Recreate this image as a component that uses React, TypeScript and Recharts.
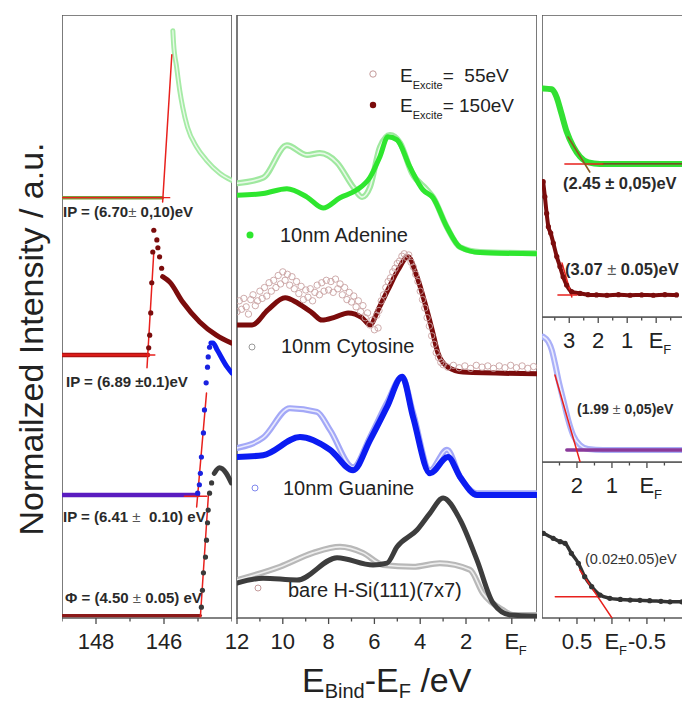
import React from "react";
import { ComposedChart, Line, Scatter, XAxis, YAxis, ReferenceArea } from "recharts";

const FONT = "'Liberation Sans', Arial, Helvetica, sans-serif";
const RED = "#e8211d";

// ---------- left panel: secondary electron cut-off (eV) ----------
const cutTicks = [149, 148, 147, 146, 145, 144];
const cutTickLabels: Record<string, string> = { "148": "148", "146": "146" };

const cutAdenineBase = [[149, 69.7], [146.05, 69.7]];
const cutAdenineTail = [
  [145.74, 97.4], [145.72, 95.4], [145.63, 91.4], [145.54, 87.6], [145.45, 84.7],
  [145.31, 81.4], [145.04, 78.1], [144.75, 75.9], [144.37, 73.8], [144.02, 72.6],
];
const cutAdenineFit = [[146.04, 69.0], [145.77, 93.4]];
const cutAdenineFitH = [[149, 69.7], [145.83, 69.7]];

const cutCytosineBase = [[149, 43.6], [146.47, 43.6]];
const cutCytosineEdge = [
  [146.45, 44.8], [146.42, 46.9], [146.39, 50.6], [146.36, 55.6], [146.33, 60.7],
  [146.3, 64.3], [146.21, 62.7], [146.18, 61.4], [146.13, 59.9], [146.07, 58.0],
];
const cutCytosineTail = [
  [146.04, 56.6], [145.83, 55.7], [145.45, 52.4], [144.95, 49.1], [144.46, 46.9], [144.02, 45.6],
];
const cutCytosineFit = [[146.5, 41.5], [146.3, 60.7]];
const cutCytosineFitH = [[149, 43.6], [146.27, 43.6]];

const cutGuanineBase = [[149, 20.4], [145.0, 20.4]];
const cutGuanineEdge = [
  [145.01, 20.7], [144.96, 22.1], [144.93, 24.0], [144.9, 26.7], [144.84, 30.7],
  [144.81, 34.5], [144.76, 39.0], [144.72, 41.6], [144.7, 43.3], [144.66, 44.9],
];
const cutGuanineTail = [[144.62, 45.6], [144.56, 45.6], [144.43, 44.4], [144.14, 41.6], [144.0, 40.6]];
const cutGuanineFit = [[145.04, 18.4], [144.75, 37.3]];
const cutGuanineFitH = [[145.4, 20.2], [144.74, 20.2]];

const cutSiBase = [[149, 0.4], [144.93, 0.4]];
const cutSiEdge = [
  [144.9, 1.8], [144.87, 4.6], [144.84, 7.5], [144.78, 10.1], [144.75, 12.9],
  [144.72, 15.8], [144.7, 17.9], [144.66, 20.7], [144.6, 22.4],
];
const cutSiTail = [[144.52, 24.0], [144.37, 24.9], [144.17, 24.0], [144.02, 22.4]];
const cutSiFit = [[144.93, 0.2], [144.69, 20.7]];

// ---------- middle panel: valence band, E_Bind - E_F (eV) ----------
const vbTicks = [12, 11, 10, 9, 8, 7, 6, 5, 4, 3, 2, 1, 0, -1];
const vbTickLabels: Record<string, string> = {
  "12": "12", "10": "10", "8": "8", "6": "6", "4": "4", "2": "2", "0": "EF",
};

const vbAdenine55 = [
  [12, 72.1], [10.86, 73.0], [9.82, 78.4], [8.94, 76.8], [8.38, 77.1], [7.63, 75.5],
  [6.93, 71.5], [6.54, 69.8], [6.19, 71.5], [5.76, 78.1], [5.32, 80.1], [4.88, 78.8],
  [4.36, 73.8], [3.7, 71.0], [3.44, 69.8], [2.83, 64.8], [2.26, 61.5], [1.39, 60.7], [-1.1, 60.5],
];
const vbAdenine150 = [
  [12, 70.1], [10.86, 70.4], [9.82, 71.2], [8.94, 69.8], [8.24, 68.0], [7.5, 69.7],
  [6.76, 71.0], [6.19, 73.1], [5.76, 76.5], [5.41, 79.8], [5.01, 79.3], [4.45, 74.8],
  [3.88, 71.0], [3.44, 69.7], [2.83, 64.8], [2.26, 61.5], [1.39, 60.6], [-1.1, 60.4],
];
const vbCytosine55 = [
  [12.0, 50.8], [11.9, 52.6], [11.8, 51.2], [11.7, 53.0], [11.6, 51.6], [11.5, 50.4],
  [11.4, 52.8], [11.3, 53.6], [11.2, 51.8], [11.1, 52.6], [11.0, 54.2], [10.9, 53.0],
  [10.8, 54.8], [10.7, 53.4], [10.6, 55.6], [10.5, 54.2], [10.4, 56.0], [10.3, 54.8],
  [10.2, 56.8], [10.1, 55.4], [10.0, 57.4], [9.9, 56.0], [9.8, 57.0], [9.7, 55.2],
  [9.6, 56.6], [9.5, 54.6], [9.4, 55.8], [9.3, 53.8], [9.2, 55.0], [9.1, 52.8],
  [9.0, 54.4], [8.9, 53.2], [8.8, 54.6], [8.7, 52.6], [8.6, 54.0], [8.5, 55.2],
  [8.4, 53.6], [8.3, 55.6], [8.2, 54.2], [8.1, 56.0], [8.0, 54.4], [7.9, 55.8],
  [7.8, 54.0], [7.7, 56.2], [7.6, 54.6], [7.5, 55.4], [7.4, 53.6], [7.3, 54.8],
  [7.2, 52.8], [7.1, 54.0], [7.0, 52.4], [6.9, 53.4], [6.8, 51.6], [6.7, 52.6],
  [6.6, 50.8], [6.5, 51.8], [6.4, 49.8], [6.3, 50.6], [6.2, 48.6], [6.1, 49.4],
  [6.0, 47.8], [5.9, 50.2], [5.84, 48.1], [5.8, 51.0], [5.7, 52.6], [5.6, 53.6],
  [5.5, 54.8], [5.4, 55.8], [5.3, 56.4], [5.2, 57.4], [5.1, 58.0], [5.0, 58.8],
  [4.9, 59.2], [4.8, 60.0], [4.7, 60.4], [4.6, 59.8], [4.5, 60.2], [4.4, 59.0],
  [4.3, 58.2], [4.2, 57.0], [4.1, 55.8], [4.0, 54.2], [3.9, 52.8], [3.8, 51.4],
  [3.7, 49.8], [3.6, 48.4], [3.5, 46.8], [3.4, 45.4], [3.3, 44.0], [3.2, 43.2],
  [3.1, 42.4], [3.0, 42.0], [2.8, 41.6], [2.55, 41.9], [2.3, 41.5], [2.05, 41.8],
  [1.8, 41.4], [1.55, 41.9], [1.3, 41.6], [1.05, 41.8], [0.8, 41.4], [0.55, 41.8],
  [0.3, 41.5], [0.05, 41.9], [-0.2, 41.5], [-0.45, 41.8], [-0.7, 41.4], [-0.95, 41.7],
];
const vbCytosine150 = [
  [12, 48.6], [11.34, 48.6], [10.65, 51.1], [9.9, 53.1], [9.34, 52.2], [8.72, 50.6],
  [8.29, 49.4], [7.72, 49.9], [7.15, 50.6], [6.54, 49.8], [6.19, 48.6], [5.84, 51.1],
  [5.41, 54.4], [4.97, 57.7], [4.53, 59.9], [4.14, 56.6], [3.79, 52.2], [3.48, 47.8],
  [3.22, 43.9], [2.79, 41.6], [2.13, 40.8], [-1.1, 40.5],
];
const vbGuanine55 = [
  [12, 28.2], [10.86, 29.9], [9.69, 34.8], [8.51, 34.2], [7.94, 31.2], [6.93, 25.0],
  [6.19, 30.0], [5.45, 35.7], [4.79, 40.0], [4.31, 34.0], [3.57, 24.5], [2.83, 27.9],
  [2.26, 23.4], [1.52, 20.7], [-1.1, 20.7],
];
const vbGuanine150 = [
  [12, 26.7], [10.86, 27.0], [9.25, 30.0], [7.94, 27.9], [6.93, 24.5], [6.19, 29.5],
  [5.45, 35.0], [4.79, 40.0], [4.31, 33.3], [3.57, 24.0], [2.79, 26.7], [2.26, 23.4],
  [1.52, 20.4], [-1.1, 20.4],
];
const vbSi55 = [
  [12, 6.3], [10.12, 8.5], [8.68, 10.8], [7.5, 11.8], [6.5, 10.8], [5.62, 8.8],
  [4.31, 8.5], [3.14, 9.1], [1.83, 8.0], [1.26, 4.1], [0.38, 1.3], [-0.05, 0.5], [-1.1, 0.5],
];
const vbSi150 = [
  [12, 5.8], [10.86, 6.6], [9.38, 6.3], [7.63, 10.0], [6.06, 8.8], [5.45, 9.1],
  [5.01, 11.8], [4.14, 14.6], [3.57, 17.4], [3.0, 19.9], [2.26, 16.3], [1.52, 9.6],
  [0.82, 2.5], [0.08, 0.5], [-1.1, 0.3],
];

// ---------- right panels: valence band maximum ----------
const vbm1Ticks = [3.5, 3, 2.5, 2, 1.5, 1, 0.5, 0, -0.5];
const vbm1TickLabels: Record<string, string> = { "3": "3", "2": "2", "1": "1", "0": "EF" };
const vbmAdenine = [
  [3.9, 75.7], [3.61, 75.4], [3.44, 72.9], [3.27, 67.4], [3.09, 61.4], [2.86, 56.4],
  [2.63, 53.1], [2.34, 51.2], [1.94, 50.7], [-0.96, 50.7],
];
const vbmAdenineFit = [[3.04, 59.6], [2.29, 48.0]];
const vbmAdenineFitH = [[3.15, 50.7], [1.84, 50.7]];
const vbmAdenineTrail = [[1.84, 50.7], [-0.96, 50.7]];
const vbmCytosine = [
  [3.9, 44.8], [3.84, 39.8], [3.78, 34.3], [3.72, 29.9], [3.64, 27.8], [3.55, 24.5],
  [3.43, 20.0], [3.32, 16.7], [3.21, 13.3], [3.09, 10.6], [2.92, 8.4], [2.63, 7.8],
  [2.35, 7.4], [2.06, 7.3], [1.7, 7.2], [1.3, 7.4], [0.9, 7.2], [0.5, 7.3], [0.1, 7.2], [-0.3, 7.4], [-0.7, 7.3],
];
const vbmCytosineFit = [[3.25, 17.9], [2.91, 6.6]];
const vbmCytosineFitH = [[3.39, 7.3], [2.73, 7.3]];

const vbm2Ticks = [2.5, 2, 1.5, 1, 0.5, 0, -0.5];
const vbm2TickLabels: Record<string, string> = { "2": "2", "1": "1", "0": "EF" };
const vbmGuanine = [
  [2.96, 86.4], [2.82, 83.0], [2.72, 77.2], [2.63, 68.1], [2.53, 56.6], [2.39, 42.8],
  [2.25, 29.0], [2.11, 18.6], [1.91, 11.7], [1.68, 9.0], [1.25, 8.3], [-1.06, 8.3],
];
const vbmGuanineFit = [[2.63, 60.0], [1.91, 0]];
const vbmGuanineBase = [[2.29, 8.3], [-1.06, 8.3]];

const vbm3Ticks = [0.75, 0.5, 0.25, 0, -0.25, -0.5, -0.75];
const vbm3TickLabels: Record<string, string> = { "0.5": "0.5", "0": "EF", "-0.5": "-0.5" };
const vbmSi = [
  [0.98, 54.3], [0.84, 51.1], [0.74, 48.9], [0.67, 47.9], [0.58, 41.5], [0.48, 35.1],
  [0.39, 26.5], [0.29, 20.1], [0.17, 14.7], [0.03, 12.6], [-0.12, 11.9], [-0.26, 11.5],
  [-0.4, 11.3], [-0.54, 11.1], [-0.7, 10.7], [-0.83, 10.4], [-1.0, 10.4],
];
const vbmSiFit = [[0.46, 30.8], [0.0, 0]];
const vbmSiFitH = [[0.81, 13.7], [0.17, 13.7]];

type P = { e: number; v: number };
const toPts = (a: number[][]): P[] => a.map(([e, v]) => ({ e, v }));

const solid = (key: string, data: number[][], color: string, w: number, type: any = "monotone", opacity = 1) => (
  <Line
    key={key}
    data={toPts(data)}
    dataKey="v"
    type={type}
    stroke={color}
    strokeWidth={w}
    strokeOpacity={opacity}
    strokeLinecap="round"
    dot={false}
    activeDot={false}
    isAnimationActive={false}
  />
);
// open-circle data drawn as a light ribbon with a pale centre
const hollow = (key: string, data: number[][], color: string, w = 6) => [
  solid(key + "o", data, color, w),
  solid(key + "i", data, "#ffffff", w * 0.27, "monotone", 0.75),
];
const fit = (key: string, data: number[][], w = 1.5) => solid(key, data, RED, w, "linear");
const dots = (key: string, data: number[][], color: string, r: number, open = false) => (
  <Scatter
    key={key}
    data={toPts(data)}
    dataKey="v"
    isAnimationActive={false}
    shape={(p: any) =>
      open ? (
        <circle cx={p.cx} cy={p.cy} r={r} fill="none" stroke={color} strokeWidth={0.9} />
      ) : (
        <circle cx={p.cx} cy={p.cy} r={r} fill={color} />
      )
    }
  />
);

const makeTick = (labels: Record<string, string>) => (props: any) => {
  const { x, y, payload } = props;
  const lab = labels[String(payload.value)];
  return (
    <g>
      <line x1={x} x2={x} y1={y} y2={y + (lab ? 6 : 3.5)} stroke="#4a4a4a" strokeWidth={1.3} />
      {lab === "EF" ? (
        <g fontFamily={FONT} fill="#222">
          <text x={x} y={y + 31} textAnchor="middle" fontSize={22}>E</text>
          <text x={x + 7} y={y + 37} fontSize={13}>F</text>
        </g>
      ) : lab ? (
        <text x={x} y={y + 31} textAnchor="middle" fontSize={22} fill="#222" fontFamily={FONT}>
          {lab}
        </text>
      ) : null}
    </g>
  );
};

function Panel(props: {
  left: number; top: number; w: number; h: number; domain: [number, number];
  ticks: number[]; labels: Record<string, string>; children: any; pad?: number;
}) {
  const { left, top, w, h, domain, ticks, labels, children } = props;
  const pad = props.pad ?? 0;
  return (
    <div style={{ position: "absolute", left: left - pad, top }}>
      <ComposedChart width={w + pad} height={h + 40} margin={{ top: 0, right: 0, bottom: 0, left: pad }}>
        <XAxis
          type="number"
          dataKey="e"
          domain={domain}
          reversed
          allowDataOverflow
          ticks={ticks}
          interval={0}
          tick={makeTick(labels)}
          tickLine={false}
          axisLine={false}
          tickSize={0}
          tickMargin={0}
          height={40}
        />
        <YAxis type="number" dataKey="v" domain={[0, 100]} allowDataOverflow hide width={0} />
        {children}
        <ReferenceArea
          x1={domain[0]} x2={domain[1]} y1={0} y2={100}
          fill="none" stroke="#5a5a5a" strokeWidth={1.6} ifOverflow="visible"
        />
      </ComposedChart>
    </div>
  );
}

const bold = { fontWeight: 700, fill: "#2a2a2a", whiteSpace: "pre" } as any;
const pm = { fontWeight: 400, fill: "#555" } as any;

export default function App() {
  return (
    <div style={{ position: "absolute", left: 0, top: 0, width: 682, height: 704, background: "#fff", overflow: "hidden", fontFamily: FONT }}>
      <Panel left={62} top={15} w={170} h={603} domain={[144, 149]} ticks={cutTicks} labels={cutTickLabels}>
        {solid("agb", cutAdenineBase, "#7e9a3c", 3.5, "linear")}
        {fit("agh", cutAdenineFitH, 1.2)}
        {hollow("agt", cutAdenineTail, "#a6eba6", 5)}
        {fit("agf", cutAdenineFit)}
        {solid("ccb", cutCytosineBase, "#b01212", 4.5, "linear")}
        {fit("cch", cutCytosineFitH)}
        {solid("cct", cutCytosineTail, "#7b0c0c", 5)}
        {fit("ccf", cutCytosineFit)}
        {dots("cce", cutCytosineEdge, "#7b0c0c", 2.6)}
        {solid("gub", cutGuanineBase, "#5a1cc0", 4.5, "linear")}
        {fit("guh", cutGuanineFitH)}
        {solid("gut", cutGuanineTail, "#0b1cf2", 5)}
        {fit("guf", cutGuanineFit)}
        {dots("gue", cutGuanineEdge, "#1a22e0", 2.6)}
        {solid("sib", cutSiBase, "#8c1a1a", 3.2, "linear")}
        {solid("sit", cutSiTail, "#3d3d3d", 5)}
        {fit("sif", cutSiFit)}
        {dots("sie", cutSiEdge, "#3a3a3a", 2.6)}
      </Panel>

      <Panel left={237} top={15} w={300} h={603} pad={20} domain={[-1.1, 12]} ticks={vbTicks} labels={vbTickLabels}>
        {hollow("a55", vbAdenine55, "#9fe89f", 6)}
        {solid("a150", vbAdenine150, "#2ee62e", 5)}
        {dots("c55", vbCytosine55, "#c9a3a3", 3.2, true)}
        {solid("c150", vbCytosine150, "#7b0c0c", 5)}
        {hollow("g55", vbGuanine55, "#a3a8f7", 6)}
        {solid("g150", vbGuanine150, "#0b1cf2", 6)}
        {hollow("s55", vbSi55, "#b8b8b8", 6)}
        {solid("s150", vbSi150, "#3d3d3d", 5)}
      </Panel>

      <Panel left={542} top={15} w={142} h={302} domain={[-0.96, 3.94]} ticks={vbm1Ticks} labels={vbm1TickLabels}>
        {solid("ma", vbmAdenine, "#33e033", 6)}
        {solid("mat", vbmAdenineTrail, "#8a2020", 1.2, "linear")}
        {fit("mah", vbmAdenineFitH)}
        {solid("maf", vbmAdenineFit, "#8a5a20", 1.6, "linear")}
        {solid("mc", vbmCytosine, "#7b0c0c", 4)}
        {dots("mcd", vbmCytosine, "#7b0c0c", 2.6)}
        {fit("mcf", vbmCytosineFit)}
        {fit("mch", vbmCytosineFitH)}
      </Panel>

      <Panel left={542} top={317} w={142} h={145} domain={[-1.06, 3]} ticks={vbm2Ticks} labels={vbm2TickLabels}>
        {hollow("mg", vbmGuanine, "#aab0f8", 6)}
        {solid("mgb", vbmGuanineBase, "#8a3a9a", 3.5, "linear")}
        {fit("mgf", vbmGuanineFit)}
      </Panel>

      <Panel left={542} top={462} w={142} h={156} domain={[-1.03, 1]} ticks={vbm3Ticks} labels={vbm3TickLabels}>
        {solid("ms", vbmSi, "#333333", 3.5)}
        {dots("msd", vbmSi, "#333333", 2.6)}
        {fit("msf", vbmSiFit)}
        {fit("msh", vbmSiFitH)}
      </Panel>

      <svg width={682} height={704} style={{ position: "absolute", left: 0, top: 0, pointerEvents: "none" }} fontFamily={FONT}>
        <text transform="translate(43,339) rotate(-90)" textAnchor="middle" fontSize={34} fill="#222">
          Normailzed Intensity / a.u.
        </text>
        <text x={302} y={692} fontSize={34} fill="#222" style={{ whiteSpace: "pre" }}>
          E<tspan fontSize={20} dy={6}>Bind</tspan>
          <tspan dy={-6}>-E</tspan>
          <tspan fontSize={20} dy={6}>F</tspan>
          <tspan dy={-6}> /eV</tspan>
        </text>

        <g fontSize={15} style={bold}>
          <text x={63} y={217} style={bold}>IP = (6.70<tspan style={pm}>±</tspan> 0,10)eV</text>
          <text x={66} y={387} style={bold}>IP = (6.89 ±0.1)eV</text>
          <text x={63} y={522} style={bold}>IP = (6.41 <tspan style={pm}>±</tspan>  0.10) eV</text>
          <text x={65} y={603} style={bold}>Φ = (4.50 <tspan style={pm}>±</tspan> 0.05) eV</text>
        </g>
        <text x={563} y={189} fontSize={16.5} style={bold}>(2.45 ± 0,05)eV</text>
        <text x={565} y={275} fontSize={16.5} style={bold}>(3.07 <tspan style={pm}>±</tspan> 0.05)eV</text>
        <text x={577} y={414} fontSize={14} style={bold}>(1.99 <tspan style={pm}>±</tspan> 0,05)eV</text>
        <text x={585} y={564} fontSize={14.5} fill="#333">(0.02±0.05)eV</text>

        <circle cx={373} cy={74} r={3.2} fill="none" stroke="#c49a9a" strokeWidth={1} />
        <text x={400} y={82} fontSize={19} fill="#222" style={{ whiteSpace: "pre" }}>
          E<tspan fontSize={11} dy={7}>Excite</tspan><tspan dy={-7}>=  55eV</tspan>
        </text>
        <circle cx={373} cy={105} r={3.2} fill="#7b0c0c" />
        <text x={400} y={112} fontSize={19} fill="#222" style={{ whiteSpace: "pre" }}>
          E<tspan fontSize={11} dy={7}>Excite</tspan><tspan dy={-7}>= 150eV</tspan>
        </text>

        <g fontSize={20} fill="#222">
          <circle cx={250} cy={235} r={3.5} fill="#2ee62e" />
          <text x={280} y={242}>10nm Adenine</text>
          <circle cx={252} cy={347} r={3} fill="none" stroke="#9a9a9a" strokeWidth={1} />
          <text x={281} y={353}>10nm Cytosine</text>
          <circle cx={255} cy={488} r={3} fill="none" stroke="#8088ee" strokeWidth={1} />
          <text x={283} y={495}>10nm Guanine</text>
          <circle cx={258} cy={588} r={3} fill="none" stroke="#c49a9a" strokeWidth={1} />
          <text x={288} y={597}>bare H-Si(111)(7x7)</text>
        </g>
      </svg>
    </div>
  );
}
